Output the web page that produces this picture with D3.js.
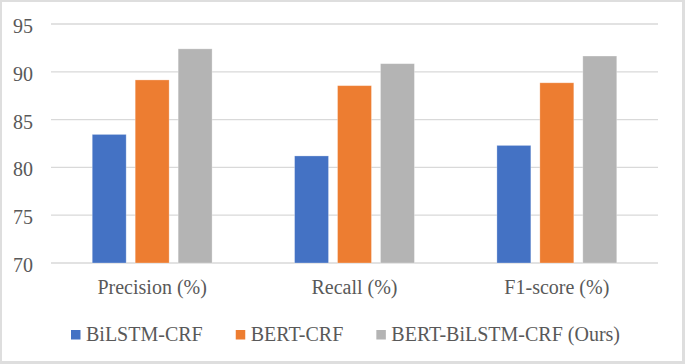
<!DOCTYPE html>
<html>
<head>
<meta charset="utf-8">
<script src="https://cdn.jsdelivr.net/npm/d3@7"></script>
<style>
  body { margin: 0; background: #fff; }
  svg text { fill: #595959; }
</style>
</head>
<body>
<svg id="chart" width="685" height="364" font-family="'Times New Roman', 'Liberation Serif', Times, serif"></svg>
<script>
const categories = ["Precision (%)", "Recall (%)", "F1-score (%)"];
const seriesNames = ["BiLSTM-CRF", "BERT-CRF", "BERT-BiLSTM-CRF (Ours)"];
const bilstmCrf = [83.45, 81.2, 82.3];
const bertCrf = [89.15, 88.55, 88.85];
const bertBilstmCrf = [92.4, 90.85, 91.65];
const yTicks = [70, 75, 80, 85, 90, 95];
const colors = ["#4472c4", "#ed7d31", "#b4b4b4"];

const seriesValues = [bilstmCrf, bertCrf, bertBilstmCrf];
const width = 685, height = 364;
const margin = {top: 24, right: 27, bottom: 101, left: 51};

const svg = d3.select("#chart");

// frame
svg.append("rect").attr("width", width).attr("height", height).attr("fill", "#dedede");
svg.append("rect").attr("x", 2).attr("y", 2).attr("width", 680).attr("height", 359).attr("fill", "#fff");

const x0 = d3.scaleBand().domain(categories).range([margin.left, width - margin.right]);
const x1 = d3.scaleBand().domain(seriesNames).range([0, x0.bandwidth()])
  .paddingInner(0.21).paddingOuter(0.96);
const y = d3.scaleLinear().domain([70, 95]).range([height - margin.bottom, margin.top]);

// gridlines
svg.append("g")
  .selectAll("line")
  .data(yTicks)
  .join("line")
  .attr("x1", margin.left)
  .attr("x2", width - margin.right)
  .attr("y1", d => y(d))
  .attr("y2", d => y(d))
  .attr("stroke", "#d9d9d9")
  .attr("stroke-width", 1.3);

// y tick labels
svg.append("g")
  .selectAll("text")
  .data(yTicks)
  .join("text")
  .attr("x", 33)
  .attr("y", d => y(d) + 9)
  .attr("text-anchor", "end")
  .attr("font-size", 20)
  .text(d => d);

// bars
const groups = svg.append("g")
  .selectAll("g")
  .data(categories)
  .join("g")
  .attr("transform", c => `translate(${x0(c)},0)`);

groups.selectAll("rect")
  .data((c, i) => seriesNames.map((s, j) => ({s, j, v: seriesValues[j][i]})))
  .join("rect")
  .attr("x", d => x1(d.s))
  .attr("width", x1.bandwidth())
  .attr("y", d => y(d.v))
  .attr("height", d => y(70) - y(d.v))
  .attr("fill", d => colors[d.j])
  .attr("stroke", "rgba(255,255,255,0.35)")
  .attr("stroke-width", 0.8);

// category labels
svg.append("g")
  .selectAll("text")
  .data(categories)
  .join("text")
  .attr("x", c => x0(c) + x0.bandwidth() / 2)
  .attr("y", 294)
  .attr("text-anchor", "middle")
  .attr("font-size", 20)
  .text(c => c);

// legend, spread between the left and right ends seen in the original
const legend = svg.append("g");
const items = legend.selectAll("g")
  .data(seriesNames)
  .join("g");
items.append("rect")
  .attr("y", 330)
  .attr("width", 9.5)
  .attr("height", 9.5)
  .attr("fill", (d, i) => colors[i]);
items.append("text")
  .attr("x", 15)
  .attr("y", 341)
  .attr("font-size", 20)
  .text(d => d);

const widths = [];
items.each(function () {
  widths.push(15 + d3.select(this).select("text").node().getComputedTextLength());
});
const legendLeft = 71, legendRight = 620;
const gap = Math.max(18, (legendRight - legendLeft - d3.sum(widths)) / (widths.length - 1));
let offset = 0;
items.attr("transform", (d, i) => {
  const tx = legendLeft + offset;
  offset += widths[i] + gap;
  return `translate(${tx},0)`;
});
</script>
</body>
</html>
